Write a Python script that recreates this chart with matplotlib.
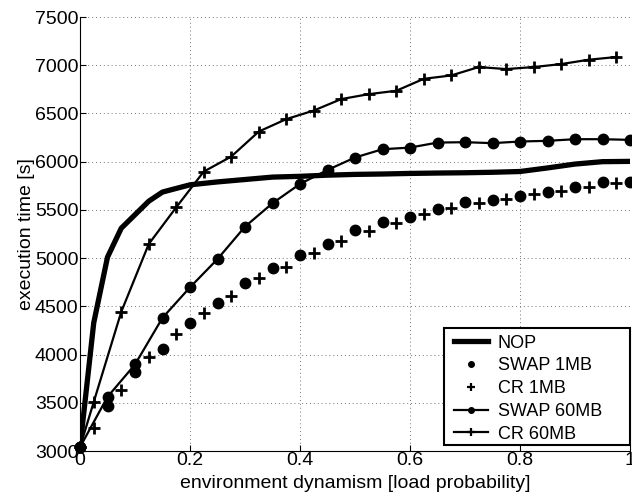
import matplotlib
matplotlib.use("Agg")
import matplotlib.pyplot as plt
from matplotlib.lines import Line2D
from matplotlib.patches import Rectangle

plt.rcParams['font.family'] = ['Liberation Sans', 'DejaVu Sans']

# load probability grids
x_nop = [0, 0.025, 0.05, 0.075, 0.1, 0.125, 0.15, 0.2, 0.25, 0.3, 0.35, 0.4, 0.45,
         0.5, 0.55, 0.6, 0.65, 0.7, 0.75, 0.8, 0.85, 0.9, 0.95, 1.0]
nop = [3040, 4330, 5010, 5310, 5450, 5590, 5685, 5760, 5790, 5815, 5840, 5848, 5860,
       5868, 5872, 5878, 5882, 5885, 5890, 5898, 5935, 5975, 6000, 6003]

x_swap = [0, 0.05, 0.1, 0.15, 0.2, 0.25, 0.3, 0.35, 0.4, 0.45, 0.5, 0.55, 0.6,
          0.65, 0.7, 0.75, 0.8, 0.85, 0.9, 0.95, 1.0]
swap_1mb = [3040, 3464, 3814, 4053, 4323, 4530, 4738, 4900, 5032, 5146, 5292, 5378,
            5423, 5510, 5579, 5603, 5648, 5683, 5741, 5787, 5790]
swap_60mb = [3040, 3561, 3897, 4381, 4697, 4990, 5326, 5569, 5769, 5914, 6043, 6129,
             6146, 6198, 6202, 6192, 6209, 6216, 6233, 6233, 6226]

x_cr = [0, 0.025, 0.075, 0.125, 0.175, 0.225, 0.275, 0.325, 0.375, 0.425, 0.475,
        0.525, 0.575, 0.625, 0.675, 0.725, 0.775, 0.825, 0.875, 0.925, 0.975]
cr_1mb = [3040, 3239, 3637, 3976, 4209, 4427, 4610, 4790, 4911, 5050, 5181, 5281,
          5361, 5458, 5517, 5569, 5610, 5662, 5697, 5741, 5776]
cr_60mb = [3040, 3509, 4443, 5146, 5527, 5897, 6053, 6312, 6441, 6530, 6649, 6700,
           6735, 6859, 6894, 6981, 6960, 6981, 7012, 7057, 7085]

x_ticks = [0, 0.2, 0.4, 0.6, 0.8, 1.0]
x_tick_labels = ["0", "0.2", "0.4", "0.6", "0.8", "1"]
y_ticks = [3000, 3500, 4000, 4500, 5000, 5500, 6000, 6500, 7000, 7500]

labels = ["NOP", "SWAP 1MB", "CR 1MB", "SWAP 60MB", "CR 60MB"]

FS = 14
W, H = 632, 500

fig = plt.figure(figsize=(W / 100, H / 100), dpi=100)
ax = fig.add_axes([80 / W, 49 / H, 550 / W, 434 / H])

ax.plot(x_nop, nop, color='k', lw=3.8, solid_joinstyle='round', zorder=3)
ax.plot(x_swap, swap_1mb, linestyle='none', marker='o', ms=7.5, color='k',
        clip_on=False, zorder=4)
ax.plot(x_cr, cr_1mb, linestyle='none', marker='+', ms=9, mew=2, color='k',
        clip_on=False, zorder=4)
ax.plot(x_swap, swap_60mb, color='k', lw=1.6, marker='o', ms=7.5,
        clip_on=False, zorder=4)
ax.plot(x_cr, cr_60mb, color='k', lw=1.6, marker='+', ms=9, mew=2,
        clip_on=False, zorder=4)

ax.set_xlim(0, 1)
ax.set_ylim(3000, 7500)
ax.set_xticks(x_ticks)
ax.set_xticklabels(x_tick_labels)
ax.set_yticks(y_ticks)
ax.tick_params(direction='in', length=4, width=0.8, labelsize=FS, pad=1, colors='k')
ax.grid(True, linestyle=(0, (1, 3)), color='0.45', linewidth=0.7)
ax.set_axisbelow(True)
for side in ('top', 'right'):
    ax.spines[side].set_visible(False)
for side in ('left', 'bottom'):
    ax.spines[side].set_linewidth(0.8)

ax.set_xlabel("environment dynamism [load probability]", fontsize=FS, labelpad=4)
ax.set_ylabel("execution time [s]", fontsize=FS, labelpad=0)

# legend: white box with a black border, entries laid out inside it
box = Rectangle((443.5 / W, 1 - 445 / H), 186 / W, 117.5 / H,
                transform=fig.transFigure, facecolor='white', edgecolor='k',
                linewidth=1.5, zorder=5)
fig.add_artist(box)

handles = [
    Line2D([], [], color='k', lw=3.8),
    Line2D([], [], color='k', linestyle='none', marker='o', ms=4),
    Line2D([], [], color='k', linestyle='none', marker='+', ms=6, mew=1.6),
    Line2D([], [], color='k', lw=1.6, marker='o', ms=4),
    Line2D([], [], color='k', lw=1.6, marker='+', ms=6, mew=1.6),
]
leg = fig.legend(handles, labels, loc='upper left',
                 bbox_to_anchor=(454.5 / W, 1 - 334.5 / H),
                 fontsize=13, frameon=False,
                 handlelength=1.85, handletextpad=0.55, labelspacing=0.32,
                 borderpad=0.0, borderaxespad=0.0)
leg.set_zorder(6)

fig.savefig("out.png", dpi=100)
